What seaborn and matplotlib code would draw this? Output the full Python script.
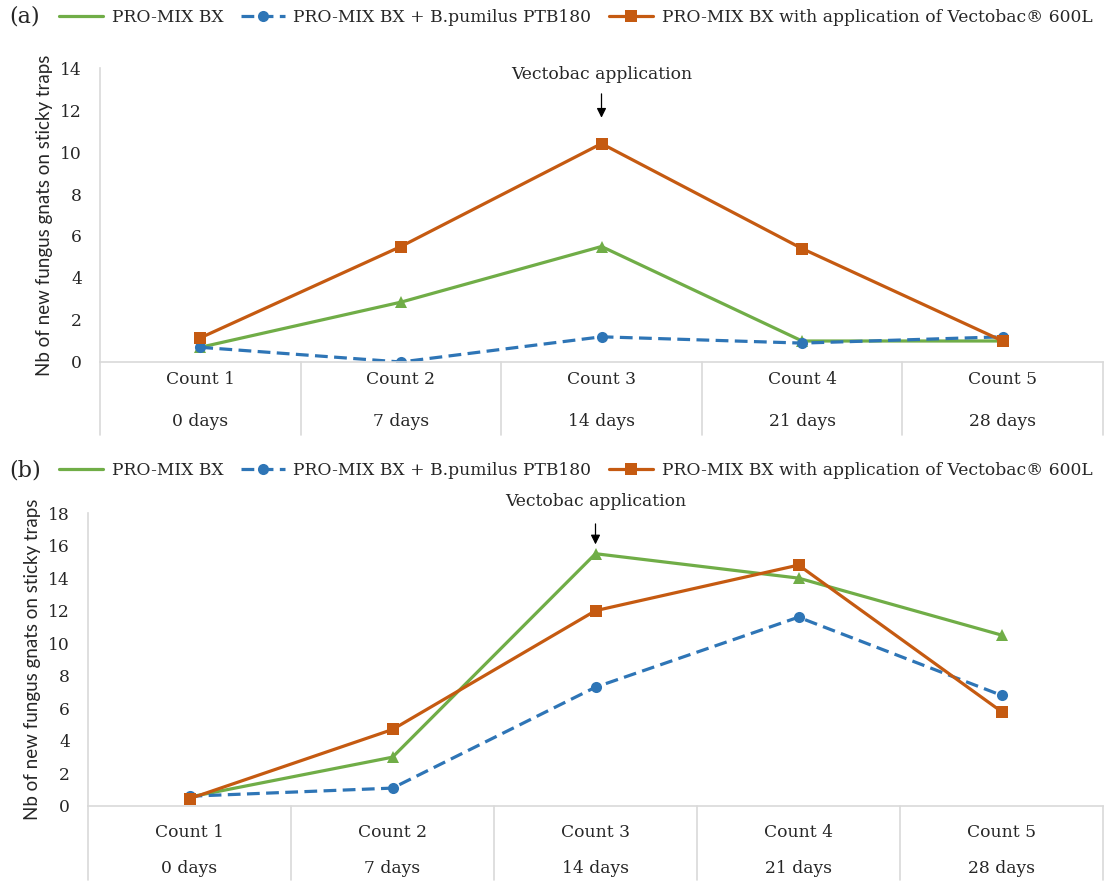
import pandas as pd
import seaborn as sns
import matplotlib.pyplot as plt
import matplotlib.transforms as mtransforms
from matplotlib.lines import Line2D

# categories
counts = ["Count 1", "Count 2", "Count 3", "Count 4", "Count 5"]
days = ["0 days", "7 days", "14 days", "21 days", "28 days"]
series = ["PRO-MIX BX",
          "PRO-MIX BX + B.pumilus PTB180",
          "PRO-MIX BX with application of Vectobac® 600L"]

# panel (a)
a_promix = [0.7, 2.85, 5.5, 1.0, 1.0]
a_pumilus = [0.7, 0.0, 1.2, 0.9, 1.2]
a_vectobac = [1.15, 5.5, 10.4, 5.4, 1.0]

# panel (b)
b_promix = [0.55, 3.0, 15.5, 14.0, 10.5]
b_pumilus = [0.6, 1.1, 7.3, 11.6, 6.8]
b_vectobac = [0.45, 4.7, 12.0, 14.8, 5.8]

palette = {series[0]: "#70AD47", series[1]: "#2E75B6", series[2]: "#C55A11"}
markers = {series[0]: "^", series[1]: "o", series[2]: "s"}
dashes = {series[0]: "", series[1]: (4, 2), series[2]: ""}

sns.set_style("white")
plt.rcParams['font.family'] = ['DejaVu Serif']
plt.rcParams['text.color'] = '#262626'
FS = 12.3


def make_df(vals):
    rows = []
    for name, v in zip(series, vals):
        for i, y in enumerate(v):
            rows.append({"pos": i, "count": counts[i], "value": y, "series": name})
    return pd.DataFrame(rows)


def draw_panel(ax, df, ymax, lab, leg_y, leg_x, txt_y, arr_from, arr_to, rows_y):
    sns.lineplot(data=df, x="pos", y="value", hue="series", style="series",
                 palette=palette, markers=markers, dashes=dashes,
                 linewidth=2.3, markersize=8, markeredgewidth=0, ax=ax, legend=False)
    ax.set_xlim(-0.5, 4.5)
    ax.set_ylim(0, ymax)
    ax.set_yticks(range(0, ymax + 1, 2))
    ax.tick_params(axis='y', labelsize=FS, length=0, pad=13, colors='#262626')
    ax.set_xticks([])
    ax.set_xlabel("")
    ax.set_ylabel("Nb of new fungus gnats on sticky traps", fontsize=13.5,
                  family=['Lato', 'DejaVu Sans'], labelpad=5)
    for s in ["top", "right"]:
        ax.spines[s].set_visible(False)
    for s in ["left", "bottom"]:
        ax.spines[s].set_color("#d9d9d9")
        ax.spines[s].set_linewidth(1.2)

    # category table under the axis
    tr = mtransforms.blended_transform_factory(ax.transData, ax.transAxes)
    for i in range(len(counts)):
        ax.text(i, rows_y[0], counts[i], transform=tr, ha="center", va="center", fontsize=FS)
        ax.text(i, rows_y[1], days[i], transform=tr, ha="center", va="center", fontsize=FS)
    for b in range(len(counts) + 1):
        ax.plot([b - 0.5, b - 0.5], [0, rows_y[2]], transform=tr, color="#d9d9d9",
                lw=1.2, clip_on=False)

    # annotation
    ax.text(2, txt_y, "Vectobac application", ha="center", va="center", fontsize=FS)
    ax.annotate("", xy=(2, arr_to), xytext=(2, arr_from),
                arrowprops=dict(arrowstyle="-|>", color="black", lw=0.9,
                                mutation_scale=14), annotation_clip=False)

    handles = [
        Line2D([], [], color=palette[series[0]], lw=2.3),
        Line2D([], [], color=palette[series[1]], lw=2.3, ls=(0, (4, 2)),
               marker="o", markersize=8, markeredgewidth=0),
        Line2D([], [], color=palette[series[2]], lw=2.3,
               marker="s", markersize=8, markeredgewidth=0),
    ]
    fig.legend(handles, series, loc="center left", bbox_to_anchor=(leg_x, leg_y),
               ncol=3, frameon=False, fontsize=FS, handlelength=2.6,
               columnspacing=1.0, handletextpad=0.5, borderaxespad=0)
    fig.text(0.008, leg_y, lab, fontsize=16, va="center", ha="left")


fig = plt.figure(figsize=(11.06, 8.81), dpi=100)
ax1 = fig.add_axes([100 / 1106, 1 - 362 / 881, 1003 / 1106, 294 / 881])
ax2 = fig.add_axes([88 / 1106, 1 - 806 / 881, 1015 / 1106, 293 / 881])

draw_panel(ax1, make_df([a_promix, a_pumilus, a_vectobac]), 14, "(a)",
           1 - 17 / 881, 52 / 1106, 13.67, 12.9, 11.5, (-0.061, -0.204, -0.248))
draw_panel(ax2, make_df([b_promix, b_pumilus, b_vectobac]), 18, "(b)",
           1 - 470 / 881, 52 / 1106, 18.7, 17.5, 15.9, (-0.089, -0.215, -0.253))

fig.savefig("out.png", dpi=100)
